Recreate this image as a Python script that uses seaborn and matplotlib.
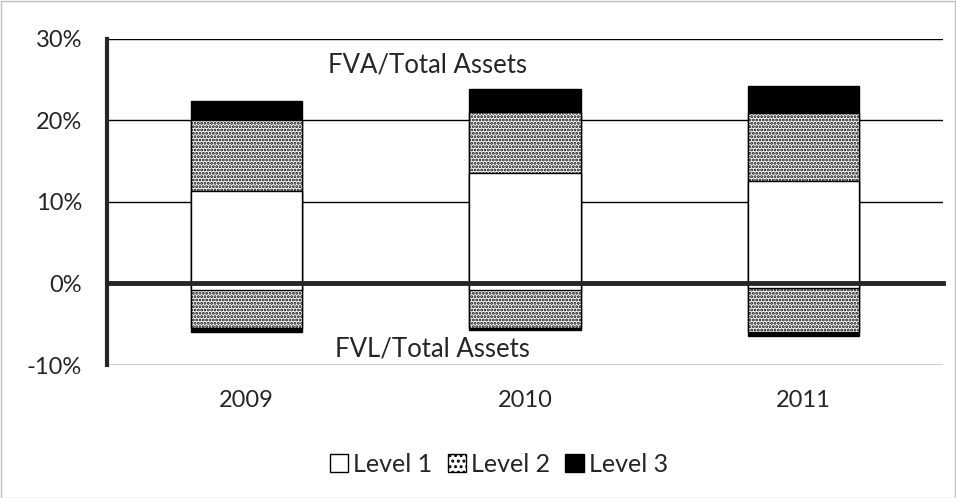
import numpy as np
import pandas as pd
import seaborn as sns
import matplotlib.pyplot as plt
from matplotlib.patches import Patch, Rectangle
from matplotlib.ticker import FuncFormatter

# Valores (% dos ativos totais)
years = ['2009', '2010', '2011']
fva_level1 = [11.4, 13.5, 12.6]
fva_level2 = [8.6, 7.5, 8.3]
fva_level3 = [2.4, 2.9, 3.3]
fvl_level1 = [-0.8, -0.8, -0.5]
fvl_level2 = [-4.7, -4.7, -5.5]
fvl_level3 = [-0.5, -0.2, -0.4]

df = pd.DataFrame({'year': years,
                   'a1': fva_level1, 'a2': fva_level2, 'a3': fva_level3,
                   'l1': fvl_level1, 'l2': fvl_level2, 'l3': fvl_level3})
# barras sobrepostas com as somas acumuladas
df['a12'] = df['a1'] + df['a2']
df['a123'] = df['a12'] + df['a3']
df['l12'] = df['l1'] + df['l2']
df['l123'] = df['l12'] + df['l3']

sns.set_style('white')
plt.rcParams['font.family'] = ['Lato', 'DejaVu Sans']
plt.rcParams['hatch.linewidth'] = 1.4

fig, ax = plt.subplots(figsize=(9.56, 4.98), dpi=100)
fig.subplots_adjust(left=0.112, right=0.986, top=0.922, bottom=0.267)

estilo = dict(width=0.4, edgecolor='black', linewidth=1, zorder=3)
layers = [('a123', 'black', None), ('a12', 'white', '.....'), ('a1', 'white', None),
          ('l123', 'black', None), ('l12', 'white', '.....'), ('l1', 'white', None)]
for col, cor, hatch in layers:
    sns.barplot(data=df, x='year', y=col, color=cor, hatch=hatch, ax=ax,
                saturation=1, **estilo)

ax.set_xlim(-0.5, 2.5)
ax.set_ylim(-10, 30)
ax.set_yticks([-10, 0, 10, 20, 30])
ax.yaxis.set_major_formatter(FuncFormatter(lambda v, p: f'{v:.0f}%'))
ax.yaxis.grid(True, color='black', linewidth=1, zorder=0)
ax.set_axisbelow(True)
ax.set_xlabel('')
ax.set_ylabel('')

for s in ['top', 'right']:
    ax.spines[s].set_visible(False)
ax.spines['left'].set_linewidth(3)
ax.spines['left'].set_zorder(5)
ax.spines['bottom'].set_position(('data', 0))
ax.spines['bottom'].set_linewidth(3.5)
ax.spines['bottom'].set_zorder(5)

ax.set_xticks([0.5, 1.5, 2.5])
ax.set_xticklabels([])
ax.tick_params(axis='x', direction='out', length=6, width=3, color='black')
ax.tick_params(axis='y', direction='out', length=6, width=3, color='black',
               labelsize=17, pad=12)

sec = ax.secondary_xaxis('bottom')
sec.set_xticks([0, 1, 2])
sec.set_xticklabels(years)
sec.tick_params(length=0, labelsize=17, pad=18)
sec.spines['bottom'].set_visible(False)

ax.text(0.383, 0.92, 'FVA/Total Assets', transform=ax.transAxes,
        ha='center', va='center', fontsize=18.5, zorder=6)
ax.text(0.39, 0.05, 'FVL/Total Assets', transform=ax.transAxes,
        ha='center', va='center', fontsize=18.5, zorder=6)

handles = [Patch(facecolor='white', edgecolor='black', label='Level 1'),
           Patch(facecolor='white', edgecolor='black', hatch='...', label='Level 2'),
           Patch(facecolor='black', edgecolor='black', label='Level 3')]
fig.legend(handles=handles, loc='center', bbox_to_anchor=(0.522, 0.068), ncol=3,
           frameon=False, fontsize=18, handlelength=0.75, handleheight=0.75,
           handletextpad=0.2, columnspacing=0.6)

fig.patches.append(Rectangle((0.001, 0.001), 0.998, 0.997, transform=fig.transFigure,
                             fill=False, edgecolor='#bfbfbf', linewidth=1))

plt.savefig('out.png', dpi=100)
